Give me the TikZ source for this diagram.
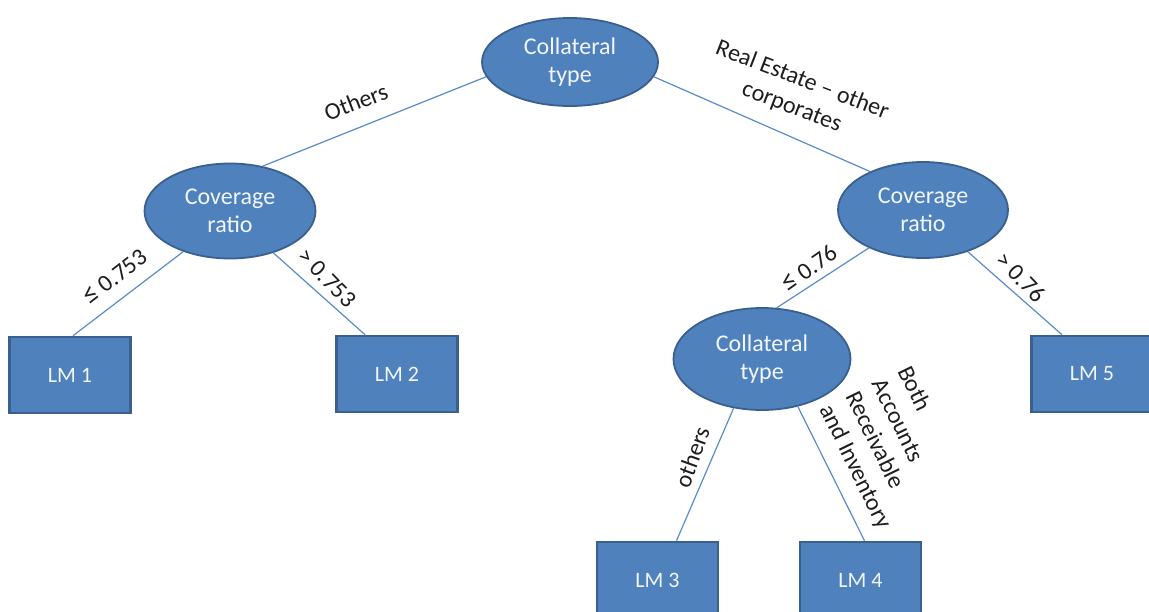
\documentclass[tikz,border=0pt]{standalone}
\usepackage{fontspec}
\setmainfont{Carlito}
\usetikzlibrary{shapes.geometric}
\definecolor{nodefill}{HTML}{4F81BD}
\definecolor{nodeborder}{HTML}{3A6090}
\definecolor{linkblue}{HTML}{5A8CCB}
\definecolor{nodetext}{HTML}{F2F6FC}
\definecolor{labeltext}{HTML}{1E1E1E}
% a slightly larger "less or equal" sign for the branch conditions
\newcommand{\leqsign}{{\fontsize{28}{28}\selectfont ≤}}
\tikzset{
  split/.style={ellipse, draw=nodeborder, line width=1.8pt, fill=nodefill,
    inner sep=0pt, align=center, text=nodetext,
    font=\fontsize{24}{28}\selectfont},
  leaf/.style={rectangle, draw=nodeborder, line width=2.6pt, fill=nodefill,
    inner sep=0pt, minimum width=121pt, minimum height=76pt, text=nodetext,
    font=\fontsize{22}{26}\selectfont},
  link/.style={draw=linkblue, line width=1.2pt},
  cond/.style={text=labeltext, inner sep=1pt, font=\fontsize{24}{29}\selectfont}
}
\begin{document}
\begin{tikzpicture}[x=1pt, y=-1pt]
  \useasboundingbox (0,0) rectangle (1149,611);
  \clip (0,0) rectangle (1149,611);
  \fill[white] (0,0) rectangle (1149,611);

  % split nodes
  \node[split, minimum width=176pt, minimum height=88pt]  (root) at (570,62)  {Collateral\\type};
  \node[split, minimum width=171pt, minimum height=95pt]  (covL) at (230,211) {Coverage\\ratio};
  \node[split, minimum width=170pt, minimum height=96pt]  (covR) at (923,210) {Coverage\\ratio};
  \node[split, minimum width=177pt, minimum height=102pt] (collB) at (762,359) {Collateral\\type};

  % leaf models
  \node[leaf] (lm1) at (70,375)    {LM 1};
  \node[leaf] (lm2) at (397,374)   {LM 2};
  \node[leaf] (lm5) at (1092,374)  {LM 5};
  \node[leaf] (lm3) at (657.5,580) {LM 3};
  \node[leaf] (lm4) at (860.5,580) {LM 4};

  % branches
  \draw[link] (root.190) -- (covL.54);
  \draw[link] (root.350) -- (covR.144);
  \draw[link] (covL.221) -- ([xshift=3pt]lm1.north);
  \draw[link] (covL.316) -- ([xshift=-32pt]lm2.north);
  \draw[link] (covR.215) -- (collB.74);
  \draw[link] (covR.317) -- ([xshift=-30pt]lm5.north);
  \draw[link] (collB.240) -- ([xshift=19pt]lm3.north);
  \draw[link] (collB.307) -- ([xshift=4pt]lm4.north);

  % branch conditions
  \node[cond, rotate=21]  (cOthers) at (356,102) {Others};
  \node[cond, rotate=-21, align=center] (cReal) at (797,94) {Real Estate – other\\corporates};
  \node[cond, rotate=38]  (cLeA) at (115,277)  {\leqsign\ 0.753};
  \node[cond, rotate=-46] (cGtA) at (327,278)  {> 0.753};
  \node[cond, rotate=35]  (cLeB) at (809,268)  {\leqsign\ 0.76};
  \node[cond, rotate=-46] (cGtB) at (1021,277) {> 0.76};
  \node[cond, rotate=70]  (cOth) at (692,457)  {others};
  \node[cond, rotate=-64, align=left] (cBoth) at (894,448)
    {Both\\Accounts\\Receivable\\and Inventory};
\end{tikzpicture}
\end{document}
